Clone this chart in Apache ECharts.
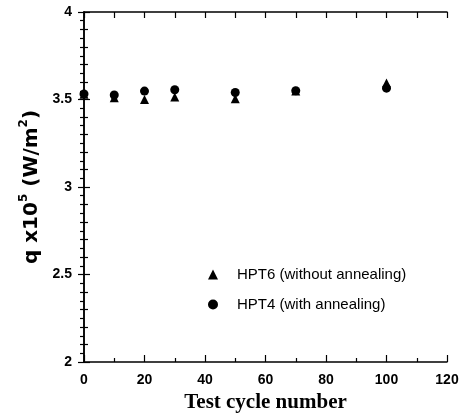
<!DOCTYPE html>
<html>
<head>
<meta charset="utf-8">
<script src="https://cdn.jsdelivr.net/npm/echarts@6/dist/echarts.min.js"></script>
<style>html,body{margin:0;padding:0;background:#fff;}#c{width:462px;height:416px;}</style>
</head>
<body>
<div id="c"></div>
<script>
var cycles = [0, 10, 20, 30, 50, 70, 100];
var hpt6 = [3.53, 3.51, 3.50, 3.515, 3.505, 3.548, 3.595];
var hpt4 = [3.532, 3.526, 3.548, 3.556, 3.54, 3.55, 3.565];
var seriesNames = ['HPT6 (without annealing)', 'HPT4 (with annealing)'];
var xTicks = [0, 20, 40, 60, 80, 100, 120];
var yTicks = [2, 2.5, 3, 3.5, 4];

var chart = echarts.init(document.getElementById('c'));
function pairs(xs, ys){ return xs.map(function(x,i){ return [x, ys[i]]; }); }
var axisLine = {show:true, lineStyle:{color:'#000', width:1.5}};
var option = {
  animation:false,
  backgroundColor:'#fff',
  grid:{left:84, right:15, top:12, bottom:54, containLabel:false, outerBoundsMode:'none'},
  legend:{
    orient:'vertical', left:203, top:262, itemGap:15, itemWidth:10, itemHeight:10,
    textStyle:{fontFamily:'Liberation Sans', fontSize:15, color:'#000', padding:[0,0,0,14]},
    data:[{name:seriesNames[0], icon:'triangle'},{name:seriesNames[1], icon:'circle'}]
  },
  xAxis:[{
    type:'value', min:0, max:120, interval:20,
    name:'Test cycle number', nameLocation:'middle', nameGap:30,
    nameTextStyle:{fontFamily:'Liberation Serif', fontWeight:'bold', fontSize:21, color:'#000'},
    axisLine:axisLine,
    axisTick:{show:true, inside:true, length:7, lineStyle:{color:'#000', width:1.2}},
    minorTick:{show:true, splitNumber:2, length:4, lineStyle:{color:'#000', width:1.2}},
    axisLabel:{fontFamily:'Liberation Sans', fontWeight:'bold', fontSize:14, color:'#000', margin:11},
    splitLine:{show:false}
  },{
    type:'value', position:'top', min:0, max:120, interval:20,
    axisLine:axisLine,
    axisTick:{show:true, inside:true, length:6, lineStyle:{color:'#000', width:1.2}},
    minorTick:{show:true, splitNumber:2, length:6, lineStyle:{color:'#000', width:1.2}},
    axisLabel:{show:false}, splitLine:{show:false}
  }],
  yAxis:[{
    type:'value', min:2, max:4, interval:0.5,
    name:'{b|q x10}{s|5}{b| (W/m}{s|2}{b|)}', nameLocation:'middle', nameGap:40, nameRotate:90,
    nameTextStyle:{rich:{
      b:{fontFamily:'DejaVu Sans', fontWeight:'bold', fontSize:20, color:'#000', lineHeight:24, verticalAlign:'bottom'},
      s:{fontFamily:'DejaVu Sans', fontWeight:'bold', fontSize:12, color:'#000', lineHeight:24, verticalAlign:'top'}
    }},
    axisLine:axisLine,
    axisTick:{show:true, inside:true, length:6, lineStyle:{color:'#000', width:1.2}},
    minorTick:{show:true, splitNumber:5, length:4, lineStyle:{color:'#000', width:1.2}},
    axisLabel:{fontFamily:'Liberation Sans', fontWeight:'bold', fontSize:14, color:'#000', margin:12},
    splitLine:{show:false}
  },{
    type:'value', position:'right', min:2, max:4, interval:0.5,
    axisLine:axisLine,
    axisTick:{show:true, inside:true, length:6, lineStyle:{color:'#000', width:1.2}},
    minorTick:{show:true, splitNumber:10, length:4, lineStyle:{color:'#000', width:1.2}},
    axisLabel:{show:false}, splitLine:{show:false}
  }],
  series:[{
    name:seriesNames[0], type:'scatter', symbol:'triangle', symbolSize:9,
    itemStyle:{color:'#000', opacity:1}, data:pairs(cycles, hpt6), z:2
  },{
    name:seriesNames[1], type:'scatter', symbol:'circle', symbolSize:9,
    itemStyle:{color:'#000', opacity:1}, data:pairs(cycles, hpt4), z:3
  }]
};
chart.setOption(option);
</script>
</body>
</html>
